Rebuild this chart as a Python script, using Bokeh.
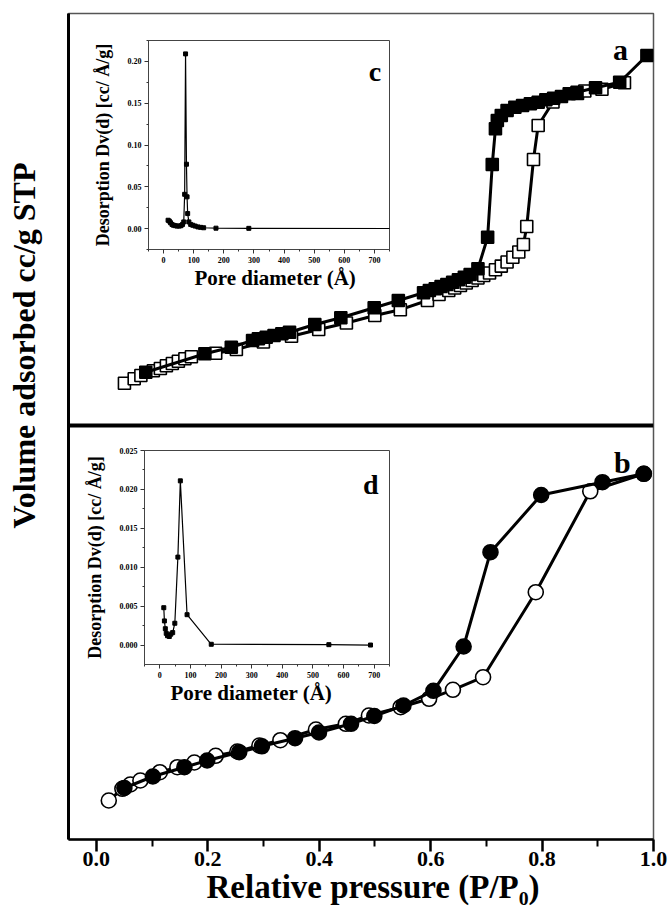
from bokeh.plotting import figure
from bokeh.models import Range1d, Span, Label, Title, FixedTicker, PrintfTickFormatter
from bokeh.layouts import column
from bokeh.embed import file_html
from bokeh.resources import INLINE

SERIF = "Liberation Serif"

# ---------------- panel a : N2 isotherm (squares), volume in arbitrary cc/g units
A_ADS_P = [0.0504, 0.0679, 0.0799, 0.1023, 0.1149, 0.1257, 0.1364, 0.1472, 0.1589, 0.1706,
           0.2142, 0.2513, 0.2998, 0.3503, 0.3991, 0.4488, 0.4998, 0.5456, 0.5943, 0.6151,
           0.6325, 0.6431, 0.6535, 0.6639, 0.6745, 0.6849, 0.6953, 0.7057, 0.7163, 0.7268,
           0.7372, 0.7476, 0.7582, 0.7665, 0.7725, 0.7846, 0.7930, 0.8196, 0.8636, 0.8767,
           0.9075, 0.9479]
A_ADS_V = [84.6, 93.4, 100.0, 109.4, 114.0, 119.4, 124.0, 128.6, 133.4, 137.4,
           144.6, 152.0, 167.0, 178.4, 192.0, 205.0, 220.0, 231.6, 250.0, 262.0,
           270.0, 275.0, 280.0, 285.0, 290.0, 295.0, 300.0, 305.0, 311.6, 318.8,
           327.0, 336.6, 347.0, 362.0, 398.0, 532.0, 600.0, 647.0, 664.0, 669.0,
           672.6, 685.6]
A_DES_P = [0.0887, 0.1948, 0.2422, 0.2804, 0.2908, 0.3049, 0.3189, 0.3329, 0.3467, 0.3921,
           0.4388, 0.4987, 0.5420, 0.5873, 0.5977, 0.6083, 0.6187, 0.6291, 0.6395, 0.6499,
           0.6605, 0.6709, 0.6849, 0.7023, 0.7106, 0.7163, 0.7197, 0.7268, 0.7372, 0.7512,
           0.7650, 0.7790, 0.7930, 0.8068, 0.8208, 0.8348, 0.8487, 0.8627, 0.8960, 0.9393,
           0.9882]
A_DES_V = [106.6, 143.4, 156.6, 170.0, 173.4, 176.6, 180.0, 183.4, 186.6, 202.0,
           215.4, 235.4, 250.0, 265.4, 270.0, 273.4, 278.0, 282.0, 286.6, 291.4,
           296.6, 302.0, 313.4, 376.6, 522.0, 593.4, 610.0, 620.0, 630.0, 636.6,
           640.0, 643.4, 646.6, 651.4, 654.6, 658.0, 663.4, 666.6, 675.4, 686.6,
           740.0]

# ---------------- panel b : N2 isotherm (circles)
B_ADS_P = [0.0223, 0.0467, 0.0610, 0.0790, 0.1140, 0.1454, 0.1759, 0.2142, 0.2531, 0.2926,
           0.3303, 0.3941, 0.4478, 0.4892, 0.5461, 0.5973, 0.6400, 0.6941, 0.7887, 0.8865,
           0.9826]
B_ADS_V = [78.0, 101.4, 110.0, 118.0, 134.6, 144.6, 154.0, 167.4, 176.0, 188.0,
           198.6, 220.0, 231.4, 248.0, 264.6, 281.4, 299.4, 324.6, 494.6, 696.4,
           731.4]
B_DES_P = [0.0503, 0.1014, 0.1580, 0.1989, 0.2564, 0.2971, 0.3566, 0.3996, 0.4571, 0.4989,
           0.5512, 0.6050, 0.6592, 0.7074, 0.7984, 0.9084, 0.9826]
B_DES_V = [103.0, 126.0, 144.6, 158.0, 174.6, 186.4, 202.6, 214.0, 231.4, 247.0,
           268.0, 297.4, 386.0, 574.6, 689.0, 714.6, 731.4]

# ---------------- inset c : pore size distribution of sample a
C_D = [15, 19, 23, 28, 33, 39, 45, 52, 58, 63, 67, 70, 73, 76, 78, 80, 84, 90, 97, 105,
       114, 123, 133, 174, 283, 1100]
C_DV = [0.010, 0.009, 0.007, 0.005, 0.004, 0.0035, 0.003, 0.003, 0.0035, 0.005, 0.008, 0.041,
        0.209, 0.077, 0.038, 0.018, 0.008, 0.005, 0.004, 0.003, 0.002, 0.0015, 0.001, 0.0005,
        0.0003, 0.0]

# ---------------- inset d : pore size distribution of sample b
D_D = [13, 15, 18, 21, 25, 31, 36, 42, 49, 59, 67, 89, 168, 552, 688]
D_DV = [0.0048, 0.0031, 0.0021, 0.0015, 0.0012, 0.0011, 0.0014, 0.0016, 0.0028, 0.0113,
        0.0211, 0.0039, 0.0001, 0.00005, 0.0]

# ---------------- ticks and titles
X_TICKS = [0.0, 0.2, 0.4, 0.6, 0.8, 1.0]
X_MINOR = [0.1, 0.3, 0.5, 0.7, 0.9]
IN_X_TICKS = [0, 100, 200, 300, 400, 500, 600, 700]
IN_X_MINOR = [-50, 50, 150, 250, 350, 450, 550, 650, 750]
C_Y_TICKS = [0.00, 0.05, 0.10, 0.15, 0.20]
C_Y_MINOR = [-0.025, 0.025, 0.075, 0.125, 0.175, 0.225]
D_Y_TICKS = [0.000, 0.005, 0.010, 0.015, 0.020, 0.025]
D_Y_MINOR = [0.0025, 0.0075, 0.0125, 0.0175, 0.0225]

X_TITLE = "Relative pressure (P/P\u2080)"
Y_TITLE = "Volume adsorbed cc/g STP"
IN_X_TITLE = "Pore diameter (\u00c5)"
IN_Y_TITLE = "Desorption Dv(d) [cc/ \u00c5/g]"

PAGE_W, PAGE_H = 668, 919

# ================= main figure
p = figure(width=PAGE_W, height=PAGE_H, x_range=Range1d(-0.05, 1.0), y_range=Range1d(0, 1),
           output_backend="svg", toolbar_location=None,
           min_border_left=68, min_border_right=15, min_border_top=13, min_border_bottom=80)
p.extra_y_ranges = {"a": Range1d(-828, 824), "b": Range1d(0, 1652)}
p.grid.visible = False
p.outline_line_color = "#555555"
p.outline_line_width = 1.5

ya = p.yaxis[0]
ya.ticker = FixedTicker(ticks=[])
ya.major_label_text_font_size = "0px"
ya.major_tick_out = 0
ya.major_label_standoff = 0
ya.axis_line_width = 3
ya.axis_line_color = "black"

xa = p.xaxis[0]
xa.ticker = FixedTicker(ticks=X_TICKS, minor_ticks=X_MINOR)
xa.formatter = PrintfTickFormatter(format="%.1f")
xa.axis_line_width = 2.5
xa.major_tick_in = 0
xa.major_tick_out = 12
xa.minor_tick_in = 0
xa.minor_tick_out = 7
xa.major_tick_line_width = 2.5
xa.minor_tick_line_width = 2
xa.major_label_text_font = SERIF
xa.major_label_text_font_size = "22px"
xa.major_label_text_font_style = "bold"
xa.major_label_text_color = "black"
xa.major_label_standoff = 0

p.add_layout(Title(text=X_TITLE, align="left", offset=138, standoff=0, vertical_align="top",
                   text_font=SERIF, text_font_size="33px", text_font_style="bold",
                   text_color="black"), "below")

p.add_layout(Span(location=0, dimension="width", y_range_name="a",
                  line_color="black", line_width=4))

# panel a
p.line(A_ADS_P, A_ADS_V, y_range_name="a", line_color="black", line_width=3)
p.scatter(A_ADS_P, A_ADS_V, y_range_name="a", marker="square", size=12,
          fill_color="white", line_color="black", line_width=1.6)
p.line(A_DES_P, A_DES_V, y_range_name="a", line_color="black", line_width=3)
p.scatter(A_DES_P, A_DES_V, y_range_name="a", marker="square", size=12,
          fill_color="black", line_color="black", line_width=1.6)

# panel b
p.line(B_ADS_P, B_ADS_V, y_range_name="b", line_color="black", line_width=3)
p.scatter(B_ADS_P, B_ADS_V, y_range_name="b", marker="circle", size=15,
          fill_color="white", line_color="black", line_width=1.6)
p.line(B_DES_P, B_DES_V, y_range_name="b", line_color="black", line_width=3)
p.scatter(B_DES_P, B_DES_V, y_range_name="b", marker="circle", size=15,
          fill_color="black", line_color="black", line_width=1.6)

for txt, xv, yv, rng in (("a", 0.9407, 752, "a"), ("b", 0.944, 754, "b")):
    p.add_layout(Label(x=xv, y=yv, y_range_name=rng, text=txt, text_font=SERIF,
                       text_font_size="30px", text_font_style="bold", text_color="black",
                       text_align="center", text_baseline="alphabetic"))


def make_inset(left, top, w, h, yr, xs, ys, yt, ym, yfmt, letter, lx, ly, title_off):
    f = figure(width=w, height=h, x_range=Range1d(-50, 750), y_range=Range1d(*yr),
               output_backend="svg", toolbar_location=None,
               min_border_left=66, min_border_right=8, min_border_top=10, min_border_bottom=56,
               background_fill_alpha=0, border_fill_alpha=0,
               styles={"position": "absolute", "left": f"{left}px", "top": f"{top}px"})
    f.grid.visible = False
    f.outline_line_color = "#444444"
    f.outline_line_width = 1
    for ax in (f.xaxis[0], f.yaxis[0]):
        ax.axis_line_color = "#444444"
        ax.axis_line_width = 1
        ax.major_tick_in = 0
        ax.major_tick_out = 4
        ax.minor_tick_in = 0
        ax.minor_tick_out = 2
        ax.major_tick_line_color = "#333333"
        ax.minor_tick_line_color = "#333333"
        ax.major_label_text_font = SERIF
        ax.major_label_text_font_size = "8px"
        ax.major_label_text_font_style = "bold"
        ax.major_label_text_color = "black"
        ax.major_label_standoff = 3
    f.xaxis.ticker = FixedTicker(ticks=IN_X_TICKS, minor_ticks=IN_X_MINOR)
    f.xaxis.formatter = PrintfTickFormatter(format="%d")
    f.yaxis.ticker = FixedTicker(ticks=yt, minor_ticks=ym)
    f.yaxis.formatter = PrintfTickFormatter(format=yfmt)
    f.yaxis.axis_label = IN_Y_TITLE
    f.yaxis.axis_label_text_font = SERIF
    f.yaxis.axis_label_text_font_size = "18px"
    f.yaxis.axis_label_text_font_style = "bold"
    f.yaxis.axis_label_text_color = "black"
    f.yaxis.axis_label_standoff = 12
    f.add_layout(Title(text=IN_X_TITLE, align="left", offset=title_off, standoff=0,
                       vertical_align="top", text_font=SERIF, text_font_size="21px",
                       text_font_style="bold", text_color="black"), "below")
    f.line(xs, ys, line_color="black", line_width=1.2)
    f.scatter(xs, ys, marker="square", size=4, fill_color="black", line_color="black")
    f.add_layout(Label(x=lx, y=ly, text=letter, text_font=SERIF, text_font_size="28px",
                       text_font_style="bold", text_color="black", text_align="center",
                       text_baseline="alphabetic"))
    return f


c = make_inset(80, 30, 324, 275, (-0.025, 0.225), C_D, C_DV, C_Y_TICKS, C_Y_MINOR, "%.2f",
               "c", 702, 0.1875, 46)
d = make_inset(76, 440, 328, 280, (-0.0025, 0.025), D_D, D_DV, D_Y_TICKS, D_Y_MINOR, "%.3f",
               "d", 689, 0.0206, 26)

# small transparent holder for the vertical y title, centred on the reference position
yl = figure(width=68, height=380, x_range=Range1d(0, 1), y_range=Range1d(0, 1),
            x_axis_type=None, output_backend="svg", toolbar_location=None,
            min_border_left=60, min_border_right=0, min_border_top=0, min_border_bottom=0,
            background_fill_alpha=0, border_fill_alpha=0,
            styles={"position": "absolute", "left": "0px", "top": "155px"})
yl.grid.visible = False
yl.outline_line_color = None
yax = yl.yaxis[0]
yax.ticker = FixedTicker(ticks=[])
yax.major_label_text_font_size = "0px"
yax.major_tick_out = 0
yax.major_label_standoff = 0
yax.axis_line_color = None
yax.axis_label = Y_TITLE
yax.axis_label_text_font = SERIF
yax.axis_label_text_font_size = "32px"
yax.axis_label_text_font_style = "bold"
yax.axis_label_text_color = "black"
yax.axis_label_standoff = 12

layout = column(p, c, d, yl)
open("out.html", "w").write(file_html(layout, INLINE, "isotherms"))
